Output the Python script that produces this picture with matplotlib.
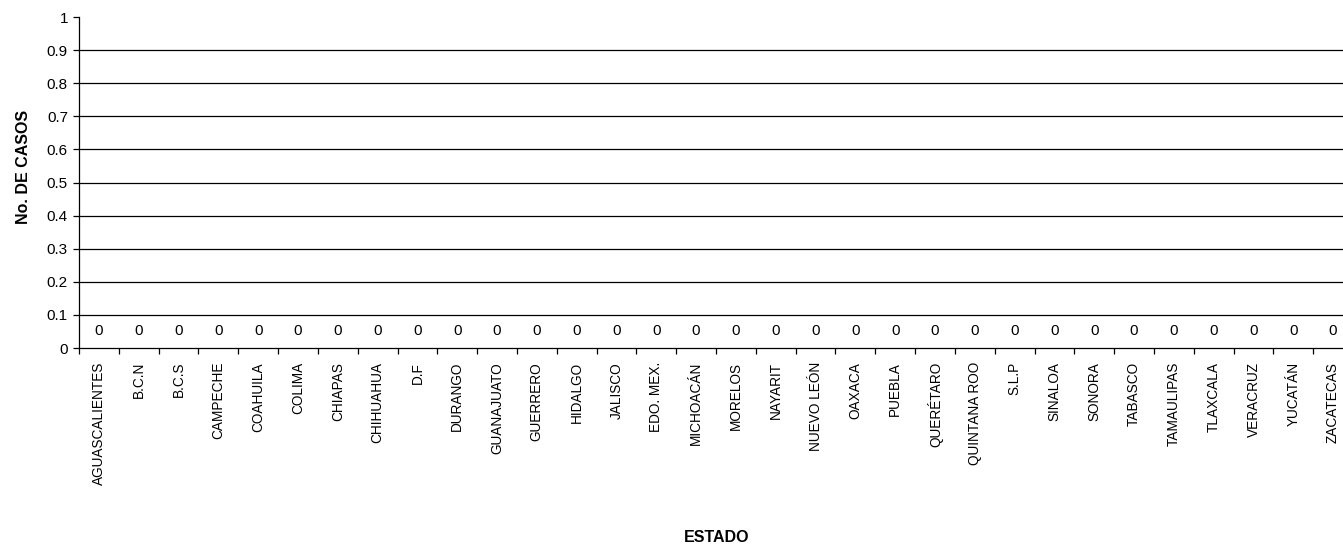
import matplotlib
matplotlib.use("Agg")
import matplotlib.pyplot as plt
import numpy as np

estados = ["AGUASCALIENTES", "B.C.N", "B.C.S", "CAMPECHE", "COAHUILA", "COLIMA",
           "CHIAPAS", "CHIHUAHUA", "D.F", "DURANGO", "GUANAJUATO", "GUERRERO",
           "HIDALGO", "JALISCO", "EDO. MEX.", "MICHOACÁN", "MORELOS", "NAYARIT",
           "NUEVO LEÓN", "OAXACA", "PUEBLA", "QUERÉTARO", "QUINTANA ROO", "S.L.P",
           "SINALOA", "SONORA", "TABASCO", "TAMAULIPAS", "TLAXCALA", "VERACRUZ",
           "YUCATÁN", "ZACATECAS"]
casos = [0] * len(estados)
yticks = [0, 0.1, 0.2, 0.3, 0.4, 0.5, 0.6, 0.7, 0.8, 0.9, 1]
ytick_labels = ["0", "0.1", "0.2", "0.3", "0.4", "0.5", "0.6", "0.7", "0.8", "0.9", "1"]

plt.rcParams['font.family'] = ['Liberation Sans', 'DejaVu Sans']

W, H = 1343, 549
fig = plt.figure(figsize=(W / 100, H / 100), dpi=100)
left = 79 / W
right = 1353 / W
bottom = (H - 348) / H
top = (H - 17) / H
ax = fig.add_axes([left, bottom, right - left, top - bottom])

x = np.arange(len(estados))
bars = ax.bar(x, casos, width=0.6, color="#808080")
ax.bar_label(bars, labels=[str(v) for v in casos], padding=7, fontsize=11)

ax.set_xlim(-0.5, len(estados) - 0.5)
ax.set_ylim(0, 1)
ax.set_yticks(yticks)
ax.set_yticklabels(ytick_labels, fontsize=11)
for yv in yticks[1:-1]:
    ax.axhline(yv, color="black", lw=0.9, zorder=0)

ax.set_xticks(x)
ax.set_xticklabels(estados, rotation=90, fontsize=9.8)
ax.set_xticks(np.arange(len(estados) + 1) - 0.5, minor=True)
ax.tick_params(axis="x", which="major", length=0, pad=10)
ax.tick_params(axis="x", which="minor", length=4, width=0.9, direction="out")
ax.tick_params(axis="y", length=4, width=0.9, direction="out", pad=4)

for s in ["top", "right"]:
    ax.spines[s].set_visible(False)
ax.spines["left"].set_linewidth(0.9)
ax.spines["bottom"].set_linewidth(0.9)

fig.text(24 / W, 1 - 167 / H, "No. DE CASOS", rotation=90, ha="center", va="center",
         fontsize=11.5, fontweight="bold")
fig.text(717 / W, 1 - 537 / H, "ESTADO", ha="center", va="center",
         fontsize=11.5, fontweight="bold")

fig.savefig("out.png", dpi=100)
